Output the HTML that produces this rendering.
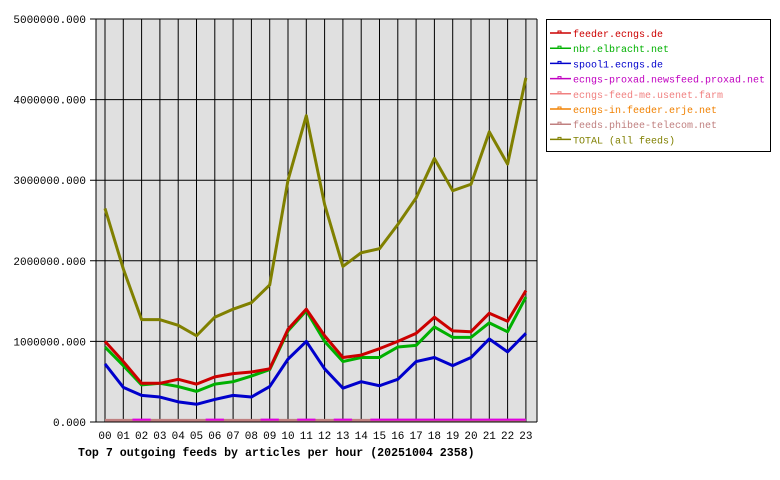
<!DOCTYPE html>
<html><head><meta charset="utf-8"><style>
body{margin:0;background:#fff;}
svg{display:block;font-family:"Liberation Mono","DejaVu Sans Mono",monospace;}
</style></head><body>
<svg id="s" width="780" height="480" xmlns="http://www.w3.org/2000/svg">
<rect x="96" y="19" width="441" height="403" fill="#e0e0e0"/>
<g id="grid" stroke="#000" stroke-width="1"></g>
<g id="lines" fill="none" stroke-width="3" stroke-linejoin="round"></g>
<line x1="96" y1="19" x2="96" y2="422" stroke="#000"/>
<line x1="96" y1="422" x2="537" y2="422" stroke="#000"/>
<g id="labels" font-size="11" fill="#000"></g>
<text x="78" y="456" font-size="11.6" font-weight="bold">Top 7 outgoing feeds by articles per hour (20251004 2358)</text>
<rect x="546.5" y="19.5" width="224" height="132" fill="#fff" stroke="#000"/>
<g id="leg" font-size="10"></g>
</svg>
<script>
const NS="http://www.w3.org/2000/svg";
function el(p,t,a,txt){const e=document.createElementNS(NS,t);for(const k in a)e.setAttribute(k,a[k]);if(txt!=null)e.textContent=txt;p.appendChild(e);return e;}
const g=document.getElementById('grid'),L=document.getElementById('lines'),lab=document.getElementById('labels'),leg=document.getElementById('leg');
const X=i=>105+i*18.3, Y=v=>422-v*80.6;
for(let i=0;i<24;i++){el(g,'line',{x1:X(i),y1:19,x2:X(i),y2:422});
 el(lab,'text',{x:X(i),y:439,'text-anchor':'middle'},String(i).padStart(2,'0'));}
for(let m=0;m<=5;m++){const y=Y(m);el(g,'line',{x1:90,y1:y,x2:537,y2:y});
 el(lab,'text',{x:86,y:y+4,'text-anchor':'end'},m==0?'0.000':(m*1000000)+'.000');}
el(g,'line',{x1:537,y1:19,x2:537,y2:422});
const D=[
['#c08080',Array(24).fill(0.02)],
['#e000e0',null],
['#0000cc',[0.72,0.43,0.33,0.31,0.25,0.22,0.28,0.33,0.31,0.44,0.78,1.0,0.66,0.42,0.5,0.45,0.53,0.75,0.8,0.7,0.8,1.03,0.87,1.1]],
['#00b000',[0.93,0.7,0.46,0.48,0.44,0.38,0.47,0.5,0.57,0.65,1.13,1.38,1.0,0.75,0.8,0.8,0.93,0.95,1.18,1.05,1.05,1.23,1.12,1.55]],
['#cc0000',[1.0,0.75,0.48,0.48,0.53,0.47,0.56,0.6,0.62,0.66,1.15,1.4,1.07,0.8,0.83,0.91,1.0,1.1,1.3,1.13,1.12,1.35,1.25,1.63]],
['#808000',[2.65,1.9,1.27,1.27,1.2,1.07,1.3,1.4,1.48,1.7,3.0,3.8,2.7,1.93,2.1,2.15,2.45,2.78,3.27,2.87,2.95,3.6,3.2,4.27]]];
for(const [c,v] of D){
 if(!v){[[1.5,2.5],[5.5,6.5],[8.5,9.5],[10.5,11.5],[12.5,13.5],[14.5,23]].forEach(([a,b])=>el(L,'line',{x1:X(a),y1:Y(0.03),x2:X(b),y2:Y(0.03),stroke:c,'stroke-width':2}));continue;}
 el(L,'polyline',{points:v.map((y,i)=>X(i)+','+Y(y)).join(' '),stroke:c});
}
const LG=[['feeder.ecngs.de','#cc0000'],['nbr.elbracht.net','#00b000'],['spool1.ecngs.de','#0000cc'],['ecngs-proxad.newsfeed.proxad.net','#c000c0'],['ecngs-feed-me.usenet.farm','#f08080'],['ecngs-in.feeder.erje.net','#f08000'],['feeds.phibee-telecom.net','#c08080'],['TOTAL (all feeds)','#808000']];
LG.forEach(([t,c],i)=>{const y=33+i*15.2;
 el(leg,'line',{x1:550,y1:y,x2:571,y2:y,stroke:c,'stroke-width':1.5});
 el(leg,'rect',{x:558,y:y-2,width:3,height:2,fill:'none',stroke:c,'stroke-width':1});
 el(leg,'text',{x:573,y:y+4,fill:c},t);});
</script>
</body></html>
